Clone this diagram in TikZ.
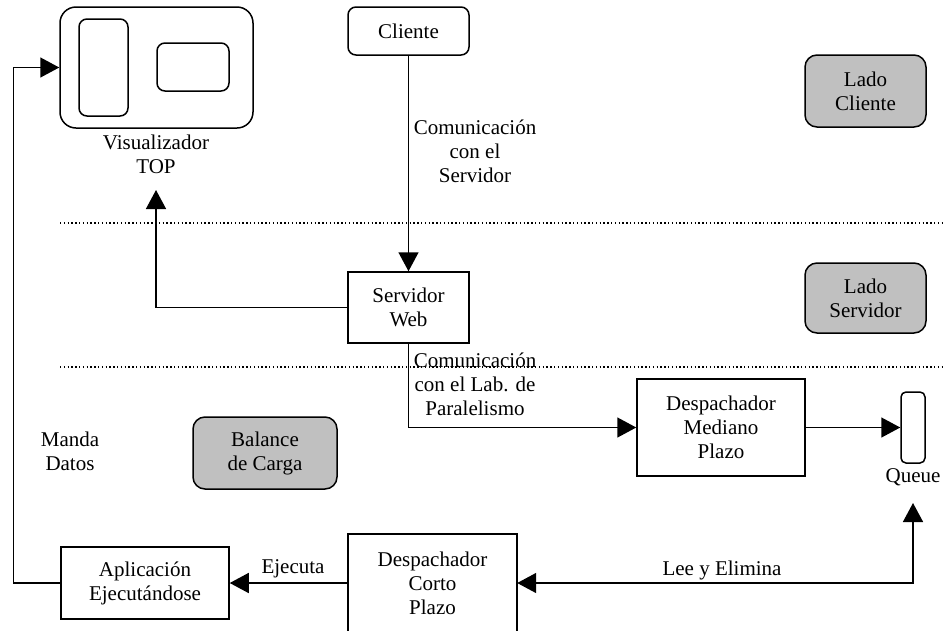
\documentclass[tikz,border=0pt]{standalone}
\usepackage{fontspec}
\setmainfont{Liberation Serif}
\usetikzlibrary{arrows.meta}
\definecolor{panelgray}{RGB}{192,192,192}
\tikzset{
  txt/.style={font=\fontsize{21}{24}\selectfont, align=center, inner sep=0pt},
  box/.style={txt, draw, line width=1.5pt, rectangle},
  rbox/.style={box, rounded corners=8pt},
  tag/.style={box, rounded corners=12pt, fill=panelgray},
  edge/.style={line width=1.5pt},
  arr/.style={line width=1.5pt, -{Triangle[length=19pt,width=20pt]}},
  biarr/.style={line width=1.5pt, {Triangle[length=19pt,width=20pt]}-{Triangle[length=19pt,width=20pt]}},
  sep/.style={line width=1.2pt, dash pattern=on 1.4pt off 2.4pt}
}
\begin{document}
\begin{tikzpicture}[x=1pt,y=-1pt]
\useasboundingbox (0,0) rectangle (945,630);

% region separators
\draw[sep] (60,223) -- (945,223);
\draw[sep] (60,367) -- (945,367);

% display window with its two panes
\node[box, rounded corners=16pt, minimum width=193pt, minimum height=121pt] (vis) at (156.5,67.5) {};
\node[box, rounded corners=8pt, minimum width=49pt, minimum height=97pt] (paneA) at (103.5,67.5) {};
\node[box, rounded corners=8pt, minimum width=72pt, minimum height=48pt] (paneB) at (193,67) {};
\node[txt] (vislabel) at (156,154) {Visualizador\\TOP};
\coordinate (visin) at (156,190);

% nodes
\node[rbox, minimum width=121pt, minimum height=48pt] (cli) at (408.5,31) {Cliente};
\node[box, minimum width=121pt, minimum height=71pt] (web) at (408.5,307.5) {Servidor\\Web};
\node[box, minimum width=168pt, minimum height=97pt] (dmp) at (721,427.5) {Despachador\\Mediano\\Plazo};
\node[box, rounded corners=5pt, minimum width=24pt, minimum height=71pt] (queue) at (913,427.5) {};
\node[txt] (queuelabel) at (913,477) {Queue};
\coordinate (qin) at (913,503);
% short-term dispatcher: its frame runs past the lower edge
\node[txt, minimum width=169pt, minimum height=98pt] (dcp) at (432.5,583) {Despachador\\Corto\\Plazo};
\draw[edge] ([yshift=-20pt]dcp.south west) |- (dcp.north east) -- ([yshift=-20pt]dcp.south east);
\node[box, minimum width=168pt, minimum height=72pt] (app) at (145,583) {Aplicación\\Ejecutándose};

% side tags
\node[tag, minimum width=121pt, minimum height=72pt] (ladocli) at (865.5,91) {Lado\\Cliente};
\node[tag, minimum width=121pt, minimum height=70pt] (ladoserv) at (865.5,298) {Lado\\Servidor};
\node[tag, minimum width=144pt, minimum height=72pt] (balance) at (265,453) {Balance\\de Carga};

% connectors
\draw[arr] (cli.south) -- (web.north);
\draw[arr] (web.west) -| (visin);
\draw[arr] (web.south) |- (dmp.west);
\draw[arr] (dmp.east) -- (queue.west);
\draw[biarr] (dcp.east) -| (qin);
\draw[arr] (dcp.west) -- (app.east);
\draw[arr] (app.west) -- ++(-47,0) |- (vis.west);

% connector labels
\node[txt] (lab1) at (475,151) {Comunicación\\con el\\Servidor};
\node[txt] (lab2) at (475,384) {Comunicación\\con el Lab. de\\Paralelismo};
\node[txt] (lab3) at (722,570) {Lee y Elimina};
\node[txt] (lab4) at (293,569) {Ejecuta};
\node[txt] (lab5) at (70,451) {Manda\\Datos};
\end{tikzpicture}
\end{document}
